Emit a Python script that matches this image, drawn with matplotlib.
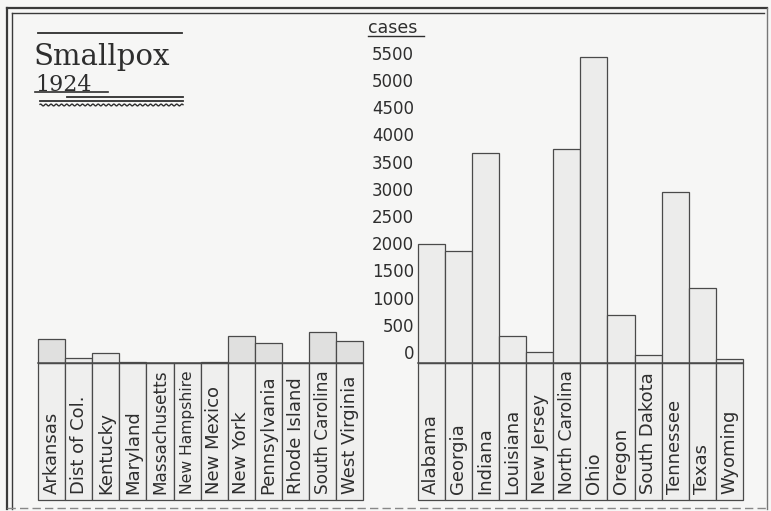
import numpy as np
import matplotlib
matplotlib.use("Agg")
import matplotlib.pyplot as plt
from matplotlib.patches import Rectangle

# ---------------- data ----------------
left_states = ["Arkansas", "Dist of Col.", "Kentucky", "Maryland", "Massachusetts",
               "New Hampshire", "New Mexico", "New York", "Pennsylvania",
               "Rhode Island", "South Carolina", "West Virginia"]
left_cases = [450, 97, 190, 15, 5, 0, 25, 496, 373, 0, 564, 399]

right_states = ["Alabama", "Georgia", "Indiana", "Louisiana", "New Jersey",
                "North Carolina", "Ohio", "Oregon", "South Dakota",
                "Tennessee", "Texas", "Wyoming"]
right_cases = [2190, 2060, 3866, 496, 202, 3934, 5630, 877, 153, 3150, 1373, 74]

y_ticks = [0, 500, 1000, 1500, 2000, 2500, 3000, 3500, 4000, 4500, 5000, 5500]
shaded_left = ["Arkansas", "New York", "Pennsylvania", "South Carolina", "West Virginia"]

title_line1 = "Smallpox"
title_line2 = "1924"
axis_title = "cases"

# ---------------- layout ----------------
W, H = 771, 511
fig = plt.figure(figsize=(W / 100, H / 100), dpi=100)
fig.patch.set_facecolor("#f6f6f5")

slot = 705 / 26.0            # px per bar slot
base_px = 363                # baseline pixel row
k = 0.0544                   # px per case
gap_slots = 2

ax = fig.add_axes([0, 0, 1, 1])
ax.set_xlim(-0.5 - 38 / slot, -0.5 + (W - 38) / slot)
ax.set_ylim(-(H - base_px) / k, base_px / k)
ax.axis("off")
ax.patch.set_alpha(0)

deco = fig.add_axes([0, 0, 1, 1], zorder=-1)
deco.set_xlim(0, W)
deco.set_ylim(H, 0)
deco.axis("off")
deco.patch.set_alpha(0)

edge = "#4a4a4a"
ink = "#2e2e2e"
cell_bottom = -(500 - base_px) / k
text_bottom = -(494 - base_px) / k

x_left = np.arange(len(left_states))
x_right = np.arange(len(right_states)) + len(left_states) + gap_slots

# label cells
for xs in (x_left, x_right):
    for x in xs:
        ax.add_patch(Rectangle((x - 0.5, cell_bottom), 1, -cell_bottom,
                               facecolor="#efefee", edgecolor=edge, lw=0.9, zorder=1))

# bars
left_colors = ["#e0e0df" if s in shaded_left else "#ebebea" for s in left_states]
ax.bar(x_left, left_cases, width=1.0, color=left_colors, edgecolor=edge, lw=0.9, zorder=2)
ax.bar(x_right, right_cases, width=1.0, color="#ececeb", edgecolor=edge, lw=0.9, zorder=2)

# baselines
for xs in (x_left, x_right):
    ax.plot([xs[0] - 0.5, xs[-1] + 0.5], [0, 0], color=edge, lw=1.1, zorder=3)

# state labels (rotated, fitted to cells)
fig.canvas.draw()
renderer = fig.canvas.get_renderer()
max_len_px = 124
for xs, names in ((x_left, left_states), (x_right, right_states)):
    for x, name in zip(xs, names):
        t = ax.text(x, text_bottom, name, rotation=90, ha="center", va="bottom",
                    fontsize=13, color=ink, family="DejaVu Sans", zorder=4)
        bb = t.get_window_extent(renderer)
        if bb.height > max_len_px:
            t.set_fontsize(13 * max_len_px / bb.height)

# y tick labels
tick_x = -0.5 + (414 - 38) / slot
for v in y_ticks:
    ax.text(tick_x, v, f"{v}", ha="right", va="bottom", fontsize=12,
            color=ink, family="DejaVu Sans", zorder=4)

# axis title 'cases'
deco.text(368, 33, axis_title, ha="left", va="baseline", fontsize=12.5,
          color=ink, family="DejaVu Sans")
deco.plot([368, 424], [36, 36], color=ink, lw=1.0)

# title block
deco.plot([38, 182], [33, 33], color=ink, lw=1.3)
deco.text(34, 65, title_line1, ha="left", va="baseline", fontsize=21,
          color=ink, family="DejaVu Serif")
deco.text(35, 91, title_line2, ha="left", va="baseline", fontsize=16,
          color=ink, family="DejaVu Serif")
deco.plot([35, 108], [92.5, 92.5], color=ink, lw=1.2)
deco.plot([67, 183], [97, 97], color=ink, lw=1.3)
deco.plot([40, 183], [101, 101], color=ink, lw=1.3)
wx = np.linspace(40, 183, 300)
deco.plot(wx, 105 + 0.9 * np.sin(wx * 1.2), color=ink, lw=1.0)

# double frame
deco.plot([7, 767], [8, 8], color="#3a3a3a", lw=1.6)
deco.plot([12, 764], [13, 13], color="#3a3a3a", lw=1.0)
deco.plot([7, 7], [8, 509], color="#3a3a3a", lw=1.6)
deco.plot([12, 12], [13, 509], color="#3a3a3a", lw=1.0)
deco.plot([767, 767], [8, 509], color="#777777", lw=1.0)
deco.plot([7, 767], [508, 508], color="#888888", lw=1.0, ls=(0, (6, 3)))

fig.savefig("out.png", dpi=100, facecolor=fig.get_facecolor())
